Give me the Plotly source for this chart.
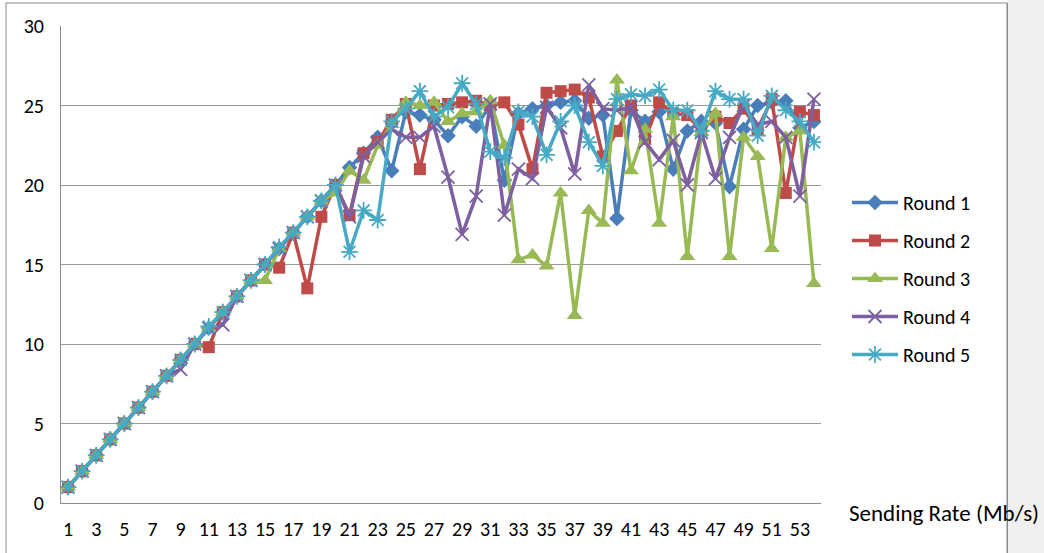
import plotly.graph_objects as go

# ---- data -------------------------------------------------------------
rates = list(range(1, 55))
x_tick_labels = [str(v) for v in range(1, 54, 2)]
y_tick_values = [0, 5, 10, 15, 20, 25, 30]

round1 = [1, 2, 3, 4, 5, 6, 7, 8, 9, 10,
          11, 12, 13, 14, 15, 16, 17, 18, 19, 20,
          21.1, 22.0, 23.0, 20.9, 24.6, 24.4, 24.1, 23.1, 24.3, 23.7,
          25.0, 20.3, 24.5, 24.8, 25.0, 25.2, 25.3, 24.2, 24.4, 17.9,
          24.7, 24.0, 24.6, 21.0, 23.4, 24.0, 23.9, 19.9, 23.5, 25.0,
          25.2, 25.3, 23.6, 24.0]
round2 = [1, 2, 3, 4, 5, 6, 7, 8, 9, 10,
          9.8, 12, 13, 14, 15, 14.8, 17, 13.5, 18, 20,
          18.1, 22.0, 22.7, 24.1, 25.1, 21.0, 25.0, 25.1, 25.2, 25.3,
          25.0, 25.2, 23.8, 21.0, 25.8, 25.9, 26.0, 25.5, 21.8, 23.4,
          25.0, 22.9, 25.2, 24.5, 24.4, 23.4, 24.3, 23.9, 24.8, 23.5,
          25.4, 19.5, 24.6, 24.4]
round3 = [1, 2, 3, 4, 5, 6, 7, 8, 9, 10,
          11, 12, 13, 14, 14.0, 16, 17, 18, 19, 19.5,
          20.9, 20.3, 22.5, 23.8, 25.2, 25.0, 25.2, 24.0, 24.5, 24.6,
          25.3, 22.5, 15.3, 15.6, 14.9, 19.5, 11.8, 18.4, 17.6, 26.6,
          20.9, 23.5, 17.6, 24.3, 15.5, 23.3, 24.5, 15.5, 23.0, 21.8,
          16.0, 23.0, 23.4, 13.8]
round4 = [1, 2, 3, 4, 5, 6, 7, 8, 8.4, 10,
          11, 11.2, 13, 14, 15, 16, 17, 18, 19, 20,
          18.0, 21.8, 22.7, 23.5, 23.0, 23.0, 23.7, 20.5, 16.9, 19.3,
          25.1, 18.1, 21.0, 20.4, 24.9, 23.6, 20.7, 26.3, 24.8, 24.7,
          24.9, 22.7, 21.6, 22.8, 20.0, 23.3, 20.4, 23.0, 25.0, 23.8,
          24.0, 23.0, 19.3, 25.4]
round5 = [1, 2, 3, 4, 5, 6, 7, 8, 9, 10,
          11.1, 12, 13, 14, 15, 16.1, 17, 18, 19, 20,
          15.8, 18.4, 17.8, 24.0, 24.8, 25.9, 24.3, 24.9, 26.4, 25.1,
          22.1, 21.7, 24.6, 24.3, 21.9, 24.0, 25.0, 22.7, 21.2, 25.4,
          25.7, 25.6, 26.0, 24.7, 24.7, 23.4, 25.9, 25.4, 25.4, 23.1,
          25.6, 24.7, 24.0, 22.7]

series_names = ["Round 1", "Round 2", "Round 3", "Round 4", "Round 5"]
series_values = [round1, round2, round3, round4, round5]

# ---- styles -----------------------------------------------------------
colors = ["#4A7EBB", "#BE4B48", "#98B954", "#7D60A0", "#46AAC5"]
symbols = ["diamond", "square", "triangle-up", "x-thin", "asterisk"]
sizes = [12, 12, 14, 13, 14]

FONT = "Calibri, Carlito, Lato, sans-serif"
FS = 20

fig = go.Figure()
for name, vals, col, sym, sz in zip(series_names, series_values, colors, symbols, sizes):
    thin = sym in ("x-thin", "asterisk")
    fig.add_trace(go.Scatter(
        x=rates, y=vals, name=name, mode="lines+markers",
        legendgroup=name,
        line=dict(color=col, width=3.5),
        marker=dict(symbol=sym, size=sz, color=col,
                    line=dict(color=col, width=1.8 if thin else 0)),
    ))

W, H = 1044, 553
L, R, T, B = 61, 821, 26, 503
pw, ph = R - L, B - T


def px(xp):
    return (xp - L) / pw


def py(yp):
    return (B - yp) / ph


fig.update_layout(
    width=W, height=H,
    margin=dict(l=L, r=W - R, t=T, b=H - B, pad=0),
    paper_bgcolor="white", plot_bgcolor="white",
    font=dict(family=FONT, size=FS, color="#000000"),
    showlegend=True,
    legend=dict(x=px(847), y=py(183), xanchor="left", yanchor="top",
                traceorder="grouped", tracegroupgap=9,
                itemwidth=46, font=dict(size=FS, family=FONT),
                bgcolor="rgba(0,0,0,0)"),
    xaxis=dict(range=[0.5, 54.5], tickvals=[int(t) for t in x_tick_labels],
               ticktext=x_tick_labels, showgrid=False, zeroline=False,
               showline=True, linecolor="#8c8c8c", linewidth=1,
               ticks="", ticklabelstandoff=8, tickfont=dict(size=FS)),
    yaxis=dict(range=[0, 30], tickvals=y_tick_values, showgrid=True,
               gridcolor="#9a9a9a", gridwidth=1, zeroline=False,
               showline=True, linecolor="#8c8c8c", linewidth=1,
               ticks="", ticklabelstandoff=12, tickfont=dict(size=FS)),
    shapes=[
        dict(type="rect", xref="paper", yref="paper",
             x0=px(6), x1=px(1007), y0=py(560), y1=py(3),
             line=dict(color="#8a8a8a", width=1), fillcolor="rgba(0,0,0,0)",
             layer="below"),
        dict(type="rect", xref="paper", yref="paper",
             x0=px(1007.5), x1=px(1046), y0=py(560), y1=py(-5),
             line=dict(width=0), fillcolor="#f0f0f0", layer="below"),
        dict(type="line", xref="paper", yref="paper",
             x0=px(1007.5), x1=px(1007.5), y0=py(560), y1=py(3),
             line=dict(color="#8a8a8a", width=1)),
    ],
    annotations=[
        dict(text="Sending Rate (Mb/s)", xref="paper", yref="paper",
             x=px(847), y=py(513), xanchor="left", yanchor="middle",
             showarrow=False, font=dict(size=23, family=FONT)),
    ],
)

fig.write_html("out.html",
               config={"displayModeBar": False},
               post_script="document.body.style.margin='0';"
                           "document.body.style.overflow='hidden';")
